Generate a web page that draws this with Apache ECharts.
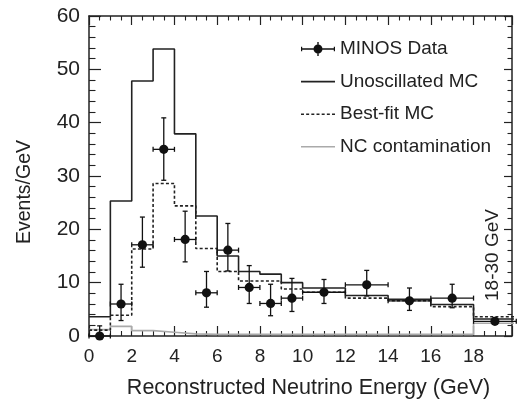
<!DOCTYPE html>
<html>
<head>
<meta charset="utf-8">
<script src="https://cdn.jsdelivr.net/npm/echarts@6/dist/echarts.min.js"></script>
<style>
html,body{margin:0;padding:0;background:#fff;}
#chart{width:518px;height:405px;}
</style>
</head>
<body>
<div id="chart"></div>
<script>
// ---- data ----
const binEdges = [0, 1, 2, 3, 4, 5, 6, 7, 8, 9, 10, 12, 14, 16, 18, 20];
const unoscMC   = [3.6, 25.3, 47.8, 53.8, 37.9, 22.5, 15.0, 12.1, 11.6, 10.0, 9.0, 7.6, 6.9, 5.9, 3.2];
const bestFitMC = [1.1, 3.9, 16.3, 28.6, 24.4, 16.4, 12.1, 10.3, 10.3, 8.8, 8.2, 7.1, 6.6, 5.5, 3.6];
const ncMC      = [1.2, 1.8, 1.0, 0.7, 0.4, 0.3, 0.3, 0.3, 0.3, 0.3, 0.3, 0.3, 0.3, 0.3, 2.4];
const dataY     = [0.0, 6.0, 17.1, 35.0, 18.1, 8.1, 16.1, 9.1, 6.1, 7.1, 8.2, 9.6, 6.6, 7.1, 2.75];
const dataErrUp = [1.9, 3.7, 5.2, 5.9, 5.3, 4.0, 5.0, 4.1, 3.6, 3.7, 2.4, 2.7, 2.4, 2.6, 0.6];
const dataErrDn = [0.0, 3.1, 4.2, 5.8, 4.2, 2.7, 3.9, 3.0, 2.3, 2.5, 2.1, 2.1, 1.8, 1.8, 0.5];
const xTicks = [0, 2, 4, 6, 8, 10, 12, 14, 16, 18];
const yTicks = [0, 10, 20, 30, 40, 50, 60];
const lastBinLabel = '18-30 GeV';

// ---- build ----
const FONT = 'Liberation Sans, Arial, Helvetica, sans-serif';
const INK = '#222';
function histData(vals) {
  return binEdges.map((e, i) => [e, vals[Math.min(i, vals.length - 1)]]);
}
const points = dataY.map((y, i) => {
  const lo = binEdges[i], hi = binEdges[i + 1];
  const c = (lo + hi) / 2;
  return [c, y, lo, hi, Math.max(0, y - dataErrDn[i]), y + dataErrUp[i]];
});

const chart = echarts.init(document.getElementById('chart'), null, {renderer: 'canvas'});

function xAxisCfg(pos, showLabel, tickLen, minorLen) {
  return {
    type: 'value', position: pos, min: xTicks[0], max: 19.8, interval: 2,
    axisLine: {show: true, onZero: false, lineStyle: {color: INK, width: 1.5}},
    axisTick: {show: true, inside: true, length: tickLen, lineStyle: {color: INK, width: 1.2}},
    minorTick: {show: true, splitNumber: 4, length: minorLen, lineStyle: {color: INK, width: 1.1}},
    splitLine: {show: false},
    axisLabel: {show: showLabel, fontSize: 19, color: INK, fontFamily: FONT, margin: 11,
      showMaxLabel: false,
      formatter: v => (xTicks.indexOf(v) >= 0 ? String(v) : '')},
    name: showLabel ? 'Reconstructed Neutrino Energy (GeV)' : '',
    nameLocation: 'middle', nameGap: 41,
    nameTextStyle: {fontSize: 21.5, color: INK, fontFamily: FONT, padding: [0, 0, 0, 16]}
  };
}
function yAxisCfg(pos, showLabel, tickLen, minorLen) {
  return {
    type: 'value', position: pos, min: yTicks[0], max: yTicks[yTicks.length - 1], interval: 10,
    axisLine: {show: true, onZero: false, lineStyle: {color: INK, width: 1.5}},
    axisTick: {show: true, inside: true, length: tickLen, lineStyle: {color: INK, width: 1.2}},
    minorTick: {show: true, splitNumber: 5, length: minorLen, lineStyle: {color: INK, width: 1.1}},
    splitLine: {show: false},
    axisLabel: {show: showLabel, fontSize: 21, color: INK, fontFamily: FONT, margin: 9},
    name: showLabel ? 'Events/GeV' : '',
    nameLocation: 'middle', nameGap: 54, nameRotate: 90,
    nameTextStyle: {fontSize: 19.5, color: INK, fontFamily: FONT, padding: [0, 32, 0, 0]}
  };
}

function dashPath() {
  let p = 'path://';
  for (let x = 0; x < 34; x += 5.2) p += 'M' + x + ',0H' + (x + 3) + 'V1.6H' + x + 'Z ';
  return p;
}
const dataIcon = 'path://M0,6.3H34V7.7H0Z M16.3,0H17.7V14H16.3Z M0,4.8H1.2V9.2H0Z M32.8,4.8H34V9.2H32.8Z M12.5,7A4.5,4.5,0,1,1,21.5,7A4.5,4.5,0,1,1,12.5,7Z';
const solidIcon = 'path://M0,0H34V1.6H0Z';

const option = {
  animation: false,
  backgroundColor: '#fff',
  grid: {left: 89, top: 16, right: 6, bottom: 69, containLabel: false},
  xAxis: [xAxisCfg('bottom', true, 10, 5), xAxisCfg('top', false, 9, 4.5)],
  yAxis: [yAxisCfg('left', true, 12, 6.5), yAxisCfg('right', false, 8, 4.5)],
  legend: {
    orient: 'vertical', left: 296, top: 34.5, itemWidth: 34, itemHeight: 14, itemGap: 13.6,
    selectedMode: false, symbolKeepAspect: true,
    textStyle: {fontSize: 19, color: INK, fontFamily: FONT, lineHeight: 18},
    data: [
      {name: 'MINOS Data', icon: dataIcon},
      {name: 'Unoscillated MC', icon: solidIcon},
      {name: 'Best-fit MC', icon: dashPath()},
      {name: 'NC contamination', icon: solidIcon}
    ]
  },
  graphic: [{
    type: 'text', x: 493, y: 255, rotation: Math.PI / 2,
    style: {text: lastBinLabel, fontSize: 19, fill: INK, fontFamily: FONT, align: 'center', verticalAlign: 'middle'}
  }],
  series: [
    {
      name: 'NC contamination', type: 'line', step: 'end', symbol: 'none',
      data: histData(ncMC), lineStyle: {color: '#aaa', width: 1.6}, itemStyle: {color: '#aaa'}, z: 2
    },
    {
      name: 'Best-fit MC', type: 'line', step: 'end', symbol: 'none',
      data: histData(bestFitMC), lineStyle: {color: INK, width: 1.6, type: [3, 2.2]}, itemStyle: {color: INK}, z: 3
    },
    {
      name: 'Unoscillated MC', type: 'line', step: 'end', symbol: 'none',
      data: histData(unoscMC), lineStyle: {color: INK, width: 1.6}, itemStyle: {color: INK}, z: 4
    },
    {
      name: 'MINOS Data', type: 'custom', z: 5,
      itemStyle: {color: '#111'},
      encode: {x: 0, y: 1},
      data: points,
      renderItem: function (params, api) {
        const c = api.coord([api.value(0), api.value(1)]);
        const l = api.coord([api.value(2), api.value(1)]);
        const r = api.coord([api.value(3), api.value(1)]);
        const lo = api.coord([api.value(0), api.value(4)]);
        const hi = api.coord([api.value(0), api.value(5)]);
        const st = {stroke: '#111', lineWidth: 1.3};
        const cap = 2.5;
        const kids = [
          {type: 'line', shape: {x1: l[0], y1: c[1], x2: r[0], y2: c[1]}, style: st},
          {type: 'line', shape: {x1: c[0], y1: lo[1], x2: c[0], y2: hi[1]}, style: st},
          {type: 'line', shape: {x1: l[0], y1: c[1] - cap, x2: l[0], y2: c[1] + cap}, style: st},
          {type: 'line', shape: {x1: r[0], y1: c[1] - cap, x2: r[0], y2: c[1] + cap}, style: st},
          {type: 'line', shape: {x1: c[0] - cap, y1: hi[1], x2: c[0] + cap, y2: hi[1]}, style: st},
          {type: 'circle', shape: {cx: c[0], cy: c[1], r: 4.6}, style: {fill: '#111'}}
        ];
        if (api.value(4) > 0) {
          kids.push({type: 'line', shape: {x1: c[0] - cap, y1: lo[1], x2: c[0] + cap, y2: lo[1]}, style: st});
        }
        return {type: 'group', children: kids};
      }
    }
  ]
};
chart.setOption(option);
</script>
</body>
</html>
